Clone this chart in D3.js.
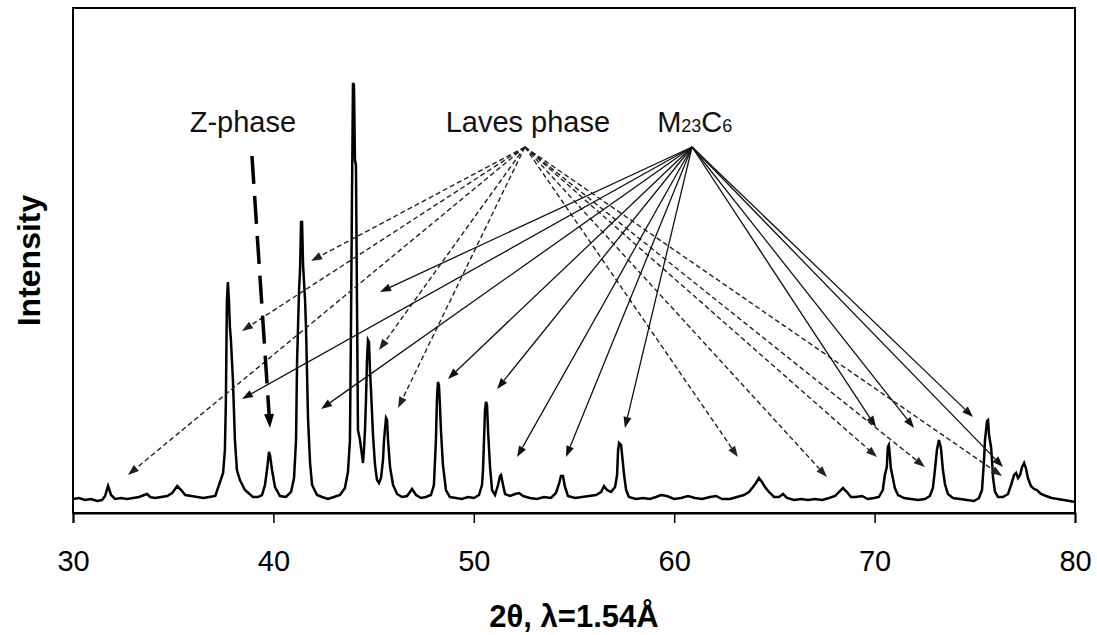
<!DOCTYPE html>
<html>
<head>
<meta charset="utf-8">
<script src="https://cdn.jsdelivr.net/npm/d3@7/dist/d3.min.js"></script>
<style>
  html, body { margin: 0; padding: 0; background: #fff; }
  svg { display: block; font-family: "Liberation Sans", Arial, sans-serif; }
</style>
</head>
<body>
<svg id="chart" width="1097" height="635"></svg>
<script>
// ---------------- DATA ----------------
const twoTheta = [
  30.00,30.30,30.60,30.90,31.20,31.45,31.60,31.75,31.90,32.10,32.40,32.70,33.00,33.30,33.55,33.70,33.85,34.10,34.40,34.70,
  34.95,35.20,35.40,35.60,35.90,36.20,36.50,36.80,37.10,37.49,37.58,37.63,37.68,37.73,37.78,37.83,37.88,37.98,38.08,38.18,
  38.33,38.58,38.98,39.23,39.43,39.58,39.68,39.78,39.83,39.93,40.08,40.33,40.63,40.88,41.03,41.13,41.18,41.28,41.33,41.38,
  41.43,41.48,41.58,41.63,41.73,41.83,41.93,42.18,42.43,42.72,43.02,43.32,43.57,43.72,43.82,43.87,43.92,43.97,44.02,44.07,
  44.12,44.17,44.22,44.32,44.42,44.47,44.52,44.57,44.62,44.67,44.72,44.77,44.82,44.87,44.97,45.07,45.17,45.27,45.37,45.47,
  45.52,45.62,45.67,45.72,45.82,45.97,46.17,46.42,46.67,46.92,47.12,47.37,47.61,47.86,48.01,48.11,48.16,48.21,48.26,48.31,
  48.36,48.46,48.61,48.81,49.11,49.41,49.71,50.01,50.26,50.41,50.46,50.51,50.56,50.61,50.66,50.71,50.81,50.91,51.06,51.21,
  51.31,51.36,51.46,51.56,51.81,52.06,52.26,52.46,52.80,53.15,53.50,53.85,54.10,54.25,54.35,54.45,54.55,54.70,55.05,55.40,
  55.75,56.10,56.35,56.50,56.65,56.85,57.05,57.15,57.20,57.25,57.35,57.40,57.50,57.60,57.74,58.09,58.44,58.79,59.09,59.34,
  59.64,59.99,60.34,60.69,61.04,61.39,61.79,62.09,62.39,62.78,63.13,63.48,63.73,63.93,64.08,64.23,64.38,64.53,64.73,64.98,
  65.23,65.43,65.63,65.98,66.33,66.68,67.03,67.38,67.73,68.03,68.22,68.42,68.62,68.82,69.07,69.37,69.66,69.97,70.21,70.41,
  70.51,70.61,70.66,70.71,70.76,70.81,70.91,71.01,71.17,71.47,71.82,72.17,72.51,72.76,72.91,73.01,73.11,73.21,73.31,73.41,
  73.51,73.66,73.91,74.26,74.61,74.96,75.21,75.36,75.46,75.51,75.61,75.66,75.71,75.81,75.86,75.91,76.01,76.16,76.41,76.66,
  76.81,76.96,77.06,77.16,77.26,77.36,77.46,77.55,77.65,77.80,77.95,78.10,78.30,78.55,78.84,79.14,79.44,79.74,80.00
];
const intensity = [
  28,30,26,28,24,26,34,54,36,28,30,28,30,32,36,38,32,30,32,34,
  40,54,46,36,34,32,30,32,34,80,126,226,426,462,426,372,346,266,146,86,
  66,46,32,32,36,56,86,122,116,86,52,34,32,42,70,146,300,446,486,582,
  582,496,426,366,186,100,56,36,32,28,32,36,50,82,146,366,626,860,856,706,
  696,426,166,146,116,100,126,166,226,306,346,342,286,246,156,96,66,60,70,106,
  146,190,186,146,92,56,38,32,34,48,36,30,32,36,56,146,226,262,256,216,
  166,96,46,32,30,28,32,30,36,56,86,146,206,222,216,166,92,46,36,56,
  74,76,56,38,34,38,40,34,30,28,32,30,40,58,74,74,52,34,30,32,
  34,36,42,54,46,42,52,76,126,140,136,116,76,46,32,28,30,28,32,36,
  34,28,30,34,30,28,32,34,28,28,32,36,42,52,60,70,62,52,42,32,
  32,38,30,26,28,26,28,26,30,34,42,50,42,32,32,34,28,30,32,46,
  76,92,132,136,116,90,70,50,36,30,28,26,28,34,50,86,126,146,130,86,
  58,38,30,28,26,24,30,46,106,146,184,186,156,132,106,70,42,32,32,38,
  56,76,80,70,76,92,100,90,70,54,48,46,38,34,30,28,26,24,22
];

const xTicks = [30, 40, 50, 60, 70, 80];
const xDomain = [30, 80];
const yDomain = [0, 1010];

// annotation labels (anchor in 2θ / intensity units)
const labelText = ["Z-phase", "Laves phase"];
const labelTheta = [38.48, 52.70];
const labelInt = [762, 762];
const mcLabelTheta = 59.15;
const mcLabelInt = 762;

// Z-phase arrow
const zFrom = [38.93, 714];
const zTo = [39.83, 170];

// Laves phase arrows (dashed)
const lavesOrigin = [52.55, 732];
const lavesTheta = [41.88, 38.43, 32.74, 45.27, 46.22, 63.18, 67.62, 70.12, 72.51, 76.36];
const lavesInt   = [504, 364, 76, 326, 210, 112, 72, 112, 92, 74];

// M23C6 arrows (solid)
const mcOrigin = [60.89, 732];
const mcTheta = [45.32, 38.43, 42.38, 48.71, 51.16, 52.16, 54.60, 57.54, 70.07, 71.97, 74.91, 76.41];
const mcInt   = [442, 228, 208, 268, 248, 112, 112, 170, 172, 170, 192, 92];

// ---------------- CHART ----------------
const svg = d3.select("#chart");
const mLeft = 73, mRight = 1075, mTop = 8, mBottom = 513;

const x = d3.scaleLinear().domain(xDomain).range([mLeft, mRight]);
const y = d3.scaleLinear().domain(yDomain).range([mBottom, mTop]);

// frame
svg.append("rect")
  .attr("x", mLeft).attr("y", mTop)
  .attr("width", mRight - mLeft).attr("height", mBottom - mTop)
  .attr("fill", "none").attr("stroke", "#000").attr("stroke-width", 2);

// x axis
const xAxis = svg.append("g")
  .attr("transform", `translate(0,${mBottom})`)
  .call(d3.axisBottom(x).tickValues(xTicks).tickSize(10).tickPadding(27).tickFormat(d3.format("d")));
xAxis.select(".domain").attr("stroke", "#000").attr("stroke-width", 2);
xAxis.selectAll(".tick line").attr("stroke", "#000").attr("stroke-width", 1.5);
xAxis.selectAll(".tick text")
  .attr("font-family", "'Liberation Sans', Arial, sans-serif")
  .attr("font-size", 29).attr("fill", "#000");

// axis titles
svg.append("text")
  .attr("x", (mLeft + mRight) / 2).attr("y", 627)
  .attr("text-anchor", "middle")
  .attr("font-weight", "bold").attr("font-size", 31)
  .text("2θ, λ=1.54Å");

svg.append("text")
  .attr("transform", `translate(40,${(mTop + mBottom) / 2}) rotate(-90)`)
  .attr("text-anchor", "middle")
  .attr("font-weight", "bold").attr("font-size", 32)
  .text("Intensity");

// spectrum
const pts = twoTheta.map((t, i) => [t, intensity[i]]);
svg.append("path")
  .datum(pts)
  .attr("fill", "none").attr("stroke", "#000").attr("stroke-width", 2.5)
  .attr("stroke-linejoin", "miter")
  .attr("d", d3.line().x(d => x(d[0])).y(d => y(d[1])));

// arrow helper: line + filled triangular head
function arrow(g, from, to, opts) {
  const x1 = x(from[0]), y1 = y(from[1]), x2 = x(to[0]), y2 = y(to[1]);
  const ang = Math.atan2(y2 - y1, x2 - x1);
  const L = opts.headLen, W = opts.headW;
  const bx = x2 - L * Math.cos(ang), by = y2 - L * Math.sin(ang);
  g.append("line")
    .attr("x1", x1).attr("y1", y1).attr("x2", bx).attr("y2", by)
    .attr("stroke", opts.color).attr("stroke-width", opts.width)
    .attr("stroke-dasharray", opts.dash || null);
  const px = -Math.sin(ang) * W / 2, py = Math.cos(ang) * W / 2;
  g.append("path")
    .attr("d", `M${x2},${y2}L${bx + px},${by + py}L${bx - px},${by - py}Z`)
    .attr("fill", opts.color);
}

const ann = svg.append("g");
lavesTheta.forEach((t, i) => arrow(ann, lavesOrigin, [t, lavesInt[i]],
  { color: "#222", width: 1.4, dash: "5,3", headLen: 11, headW: 8 }));
mcTheta.forEach((t, i) => arrow(ann, mcOrigin, [t, mcInt[i]],
  { color: "#111", width: 1.3, headLen: 11, headW: 8 }));
arrow(ann, zFrom, zTo, { color: "#000", width: 3.5, dash: "28,12", headLen: 14, headW: 10 });

// labels
labelText.forEach((s, i) => {
  svg.append("text")
    .attr("x", x(labelTheta[i])).attr("y", y(labelInt[i]))
    .attr("text-anchor", "middle").attr("font-size", 29).attr("fill", "#111")
    .text(s);
});
const mc = svg.append("text")
  .attr("x", x(mcLabelTheta)).attr("y", y(mcLabelInt))
  .attr("font-size", 29).attr("fill", "#111");
mc.append("tspan").text("M");
mc.append("tspan").attr("font-size", 18).text("23");
mc.append("tspan").text("C");
mc.append("tspan").attr("font-size", 18).text("6");
</script>
</body>
</html>
